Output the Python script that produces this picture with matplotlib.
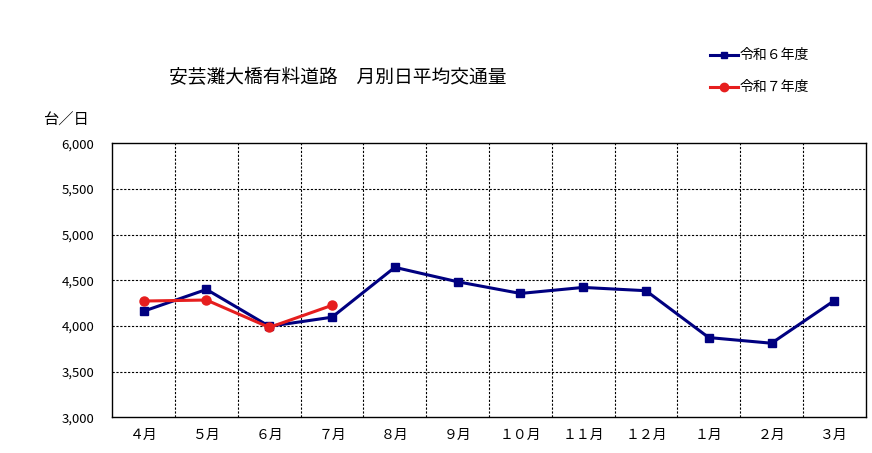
import matplotlib
matplotlib.use("Agg")
import matplotlib.pyplot as plt
from matplotlib.lines import Line2D

plt.rcParams['font.family'] = ['Noto Sans CJK JP', 'DejaVu Sans']

months = ["４月", "５月", "６月", "７月", "８月", "９月", "１０月", "１１月", "１２月", "１月", "２月", "３月"]
r6 = [4162, 4400, 3996, 4096, 4642, 4484, 4356, 4422, 4386, 3873, 3811, 4278]
r7 = [4273, 4284, 3984, 4226]
yticks = [3000, 3500, 4000, 4500, 5000, 5500, 6000]
title = "安芸灘大橋有料道路　月別日平均交通量"
unit = "台／日"
labels = ["令和６年度", "令和７年度"]

fig = plt.figure(figsize=(8.72, 4.53), dpi=100)
ax = fig.add_axes([112.3/872, 1-417.3/453, (865.7-112.3)/872, (417.3-143.3)/453])

x = list(range(len(months)))
blue = "#000080"
red = "#e61e1e"
ax.plot(x, r6, color=blue, lw=2.2, marker="s", ms=5.5, zorder=3)
ax.plot(x[:len(r7)], r7, color=red, lw=2.2, marker="o", ms=6.5, zorder=4)

ax.set_xlim(-0.5, len(months)-0.5)
ax.set_ylim(3000, 6000)
ax.set_yticks(yticks)
ax.set_yticklabels([f"{v:,}" for v in yticks], fontsize=9.5)
ax.set_xticks(x)
ax.set_xticklabels(months, fontsize=10)
ax.tick_params(axis='x', length=0, pad=8)
ax.tick_params(axis='y', length=0, pad=13)

for v in yticks[1:-1]:
    ax.axhline(v, color="black", lw=0.8, ls=(0, (2, 1.5)), zorder=1)
for i in range(len(months)-1):
    ax.axvline(i+0.5, color="black", lw=0.8, ls=(0, (2, 1.5)), zorder=1)
for s in ax.spines.values():
    s.set_linewidth(1.0)
    s.set_color("black")

fig.text(338/872, 1-78/453, title, ha="center", va="center", fontsize=13.5)
fig.text(66/872, 1-120/453, unit, ha="center", va="center", fontsize=11)

# legend
for yy, col, mk, ms, lab in [(55, blue, "s", 5, labels[0]), (87, red, "o", 6, labels[1])]:
    fig.add_artist(Line2D([710/872, 738/872], [1-yy/453, 1-yy/453], color=col, lw=2.2,
                          transform=fig.transFigure))
    fig.add_artist(Line2D([724/872], [1-yy/453], color=col, marker=mk, ms=ms,
                          transform=fig.transFigure))
    fig.text(740/872, 1-yy/453, lab, ha="left", va="center", fontsize=10)

fig.savefig("out.png", dpi=100)
